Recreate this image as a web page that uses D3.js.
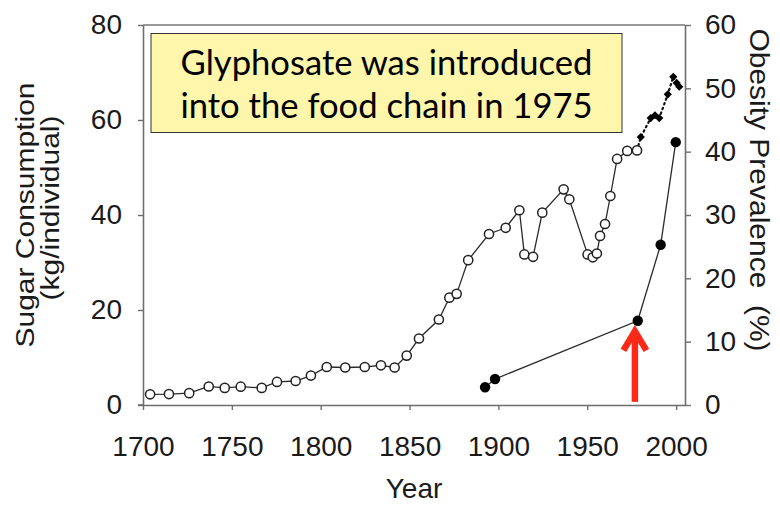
<!DOCTYPE html>
<html>
<head>
<meta charset="utf-8">
<script src="https://cdn.jsdelivr.net/npm/d3@7"></script>
<style>
  html, body { margin: 0; padding: 0; background: #fff; }
  svg { display: block; }
</style>
</head>
<body>
<svg id="chart" width="780" height="505"></svg>
<script>
// ---- data ----
const sugarYears = [1704, 1714.6, 1726, 1737, 1746, 1755, 1766.8, 1775.4, 1785.9, 1794.5,
  1803.4, 1813.8, 1824.8, 1833.9, 1841.6, 1848.4, 1855.3, 1866.5, 1872.4, 1876.5,
  1883, 1894.7, 1904.1, 1911.8, 1914.6, 1919.5, 1924.7, 1936.7, 1939.9, 1950.2,
  1953.1, 1955.4, 1957.2, 1960, 1963, 1966.8, 1972.5, 1978];
const sugarValues = [2.25, 2.3, 2.5, 3.9, 3.6, 3.85, 3.6, 4.85, 5.05, 6.2,
  8.0, 7.9, 8.0, 8.35, 7.9, 10.4, 14.0, 18.0, 22.6, 23.4,
  30.5, 36.0, 37.3, 41.0, 31.7, 31.2, 40.5, 45.4, 43.3, 31.7,
  31.1, 31.9, 35.6, 38.1, 44.0, 51.8, 53.5, 53.6];
const recentSugarYears = [1980.1, 1985.7, 1988.1, 1990.5, 1995.3, 1998.4, 2000.3, 2001.8];
const recentSugarValues = [56.4, 60.4, 61.0, 60.4, 65.4, 69.1, 67.8, 67.0];
const obesityYears = [1892.5, 1898.1, 1978.4, 1991.3, 1999.8];
const obesityValues = [2.8, 4.1, 13.3, 25.3, 41.5];
const xTicks = [1700, 1750, 1800, 1850, 1900, 1950, 2000];
const leftTicks = [0, 20, 40, 60, 80];
const rightTicks = [0, 10, 20, 30, 40, 50, 60];
const annotationLines = ["Glyphosate was introduced", "into the food chain in 1975"];
const arrowYear = 1976.8;

(function () {
const svg = d3.select("#chart");
const pLeft = 143, pRight = 685, pTop = 25, pBottom = 405;
const x = d3.scaleLinear().domain([1700, 2005]).range([pLeft, pRight]);
const yL = d3.scaleLinear().domain([0, 80]).range([pBottom, pTop]);
const yR = d3.scaleLinear().domain([0, 60]).range([pBottom, pTop]);

const axisColor = "#6e6e6e";
const labelFont = "'Liberation Sans', Arial, Helvetica, sans-serif";

// frame top line
svg.append("line").attr("x1", pLeft).attr("x2", pRight).attr("y1", pTop).attr("y2", pTop)
  .attr("stroke", "#999").attr("stroke-width", 2);

function styleAxis(g) {
  g.select(".domain").attr("stroke", axisColor).attr("stroke-width", 1.6);
  g.selectAll(".tick line").attr("stroke", axisColor).attr("stroke-width", 1.4);
  g.selectAll(".tick text").style("font-size", "28px").style("fill", "#1a1a1a")
    .style("font-family", labelFont);
}
svg.append("g").attr("transform", `translate(0,${pBottom})`)
  .call(d3.axisBottom(x).tickValues(xTicks).tickFormat(d3.format("d")).tickSize(5).tickSizeOuter(0).tickPadding(26))
  .call(styleAxis);
svg.append("g").attr("transform", `translate(${pLeft},0)`)
  .call(d3.axisLeft(yL).tickValues(leftTicks).tickSize(5).tickSizeOuter(0).tickPadding(16))
  .call(styleAxis);
svg.append("g").attr("transform", `translate(${pRight},0)`)
  .call(d3.axisRight(yR).tickValues(rightTicks).tickSize(6).tickSizeOuter(0).tickPadding(14))
  .call(styleAxis);
svg.append("line").attr("x1", pLeft - 5).attr("x2", pLeft).attr("y1", pBottom).attr("y2", pBottom)
  .attr("stroke", axisColor).attr("stroke-width", 1.6);

// axis titles
function title(sel) {
  return sel.style("font-family", labelFont).style("fill", "#1a1a1a");
}
title(svg.append("text")).attr("x", 414).attr("y", 498).attr("text-anchor", "middle")
  .style("font-size", "28px").text("Year");
title(svg.append("text")).attr("transform", "translate(34,215) rotate(-90) scale(1,0.86)")
  .attr("text-anchor", "middle").style("font-size", "30px").text("Sugar Consumption");
title(svg.append("text")).attr("transform", "translate(59,208) rotate(-90) scale(1,0.86)")
  .attr("text-anchor", "middle").style("font-size", "30px").text("(kg/individual)");
title(svg.append("text")).attr("transform", "translate(750,190) rotate(90) scale(1,0.9)")
  .attr("text-anchor", "middle").style("font-size", "30px").style("white-space", "pre")
  .text("Obesity Prevalence  (%)");

// lines
const lineColor = "#2a2a2a";
const sugarData = sugarYears.map((d, i) => [d, sugarValues[i]]);
const recentPoints = recentSugarYears.map((d, i) => [d, recentSugarValues[i]]);
const recentData = [sugarData[sugarData.length - 1]].concat(recentPoints);
const obesityData = obesityYears.map((d, i) => [d, obesityValues[i]]);

const lineL = d3.line().x(d => x(d[0])).y(d => yL(d[1]));
const lineR = d3.line().x(d => x(d[0])).y(d => yR(d[1]));

svg.append("path").attr("d", lineL(sugarData)).attr("fill", "none")
  .attr("stroke", lineColor).attr("stroke-width", 1.3);
svg.append("path").attr("d", lineL(recentData)).attr("fill", "none")
  .attr("stroke", "#111").attr("stroke-width", 2.2).attr("stroke-dasharray", "1.5,3.5")
  .attr("stroke-linecap", "round");
svg.append("path").attr("d", lineR(obesityData)).attr("fill", "none")
  .attr("stroke", lineColor).attr("stroke-width", 1.3);

// markers
svg.append("g").selectAll("circle").data(sugarData).join("circle")
  .attr("cx", d => x(d[0])).attr("cy", d => yL(d[1])).attr("r", 4.6)
  .attr("fill", "#fff").attr("stroke", "#222").attr("stroke-width", 1.5);
svg.append("g").selectAll("path").data(recentPoints).join("path")
  .attr("d", d3.symbol().type(d3.symbolSquare).size(34))
  .attr("transform", d => `translate(${x(d[0])},${yL(d[1])}) rotate(45)`)
  .attr("fill", "#000");
svg.append("g").selectAll("circle").data(obesityData).join("circle")
  .attr("cx", d => x(d[0])).attr("cy", d => yR(d[1])).attr("r", 5.2)
  .attr("fill", "#000");

// red arrow
const ax = x(arrowYear);
const tipY = yR(12.1), baseY = yR(0.5);
svg.append("line").attr("x1", ax).attr("x2", ax).attr("y1", baseY).attr("y2", tipY + 4)
  .attr("stroke", "#fb2a18").attr("stroke-width", 6.5);
svg.append("path")
  .attr("d", `M${ax - 11.5},${tipY + 22} L${ax},${tipY + 3} L${ax + 11.5},${tipY + 22}`)
  .attr("fill", "none").attr("stroke", "#fb2a18").attr("stroke-width", 6.5)
  .attr("stroke-linejoin", "miter").attr("stroke-linecap", "butt");

// annotation box
svg.append("rect").attr("x", 151).attr("y", 33.5).attr("width", 471).attr("height", 99)
  .attr("fill", "#fef6aa").attr("stroke", "#333").attr("stroke-width", 1);
const boxFont = "Lato, 'Open Sans', sans-serif";
const t1 = svg.append("text").attr("x", 386.5).attr("y", 75).attr("text-anchor", "middle")
  .style("font-family", boxFont).style("font-size", "28px").style("fill", "#000").text(annotationLines[0]);
const t2 = svg.append("text").attr("x", 386.5).attr("y", 118).attr("text-anchor", "middle")
  .style("font-family", boxFont).style("font-size", "28px").style("fill", "#000").text(annotationLines[1]);
const w1 = t1.node().getComputedTextLength();
const fs = 28 * 412 / w1;
t1.style("font-size", fs + "px");
t2.style("font-size", fs + "px");
})();
</script>
</body>
</html>
